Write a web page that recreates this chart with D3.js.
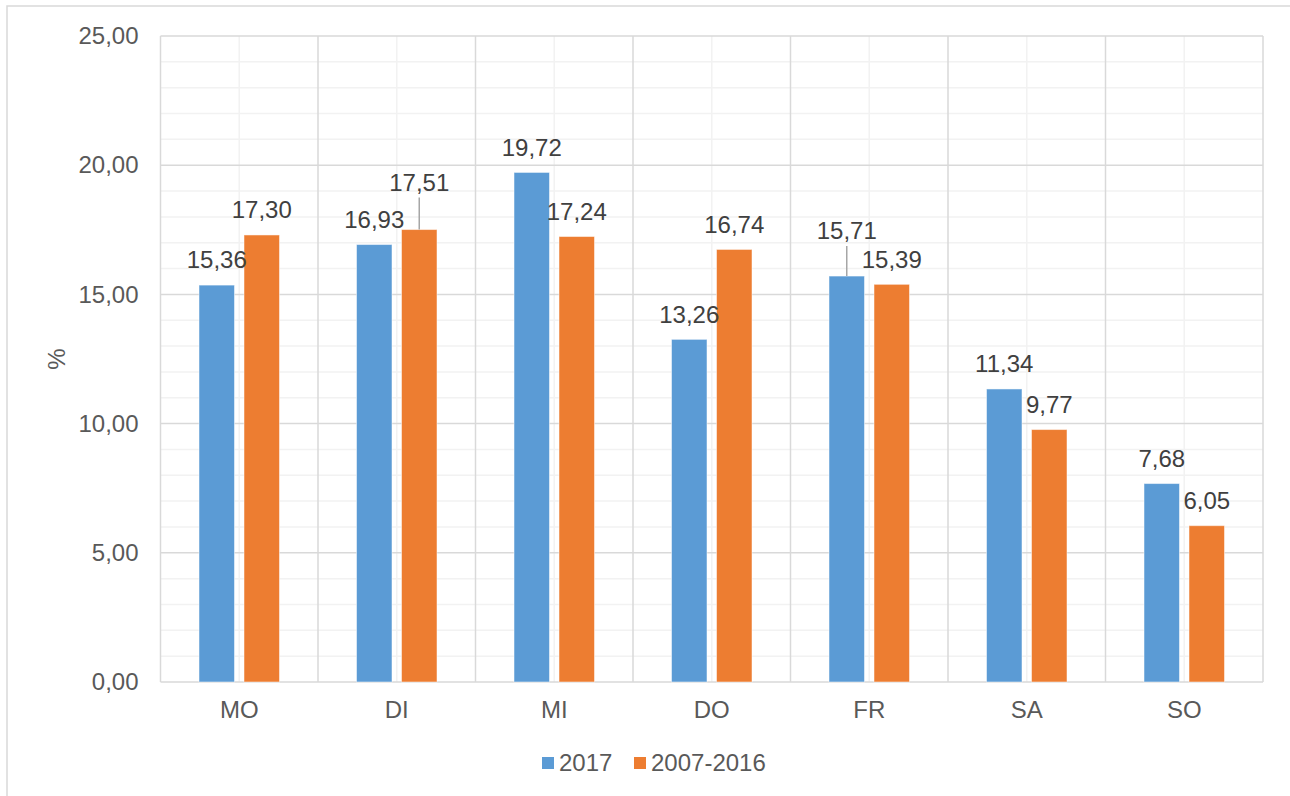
<!DOCTYPE html>
<html>
<head>
<meta charset="utf-8">
<script src="https://cdn.jsdelivr.net/npm/d3@7"></script>
<style>
  html, body { margin: 0; padding: 0; background: #fff; }
  svg { display: block; font-family: "Liberation Sans", Arial, sans-serif; }
</style>
</head>
<body>
<svg id="chart" width="1290" height="796"></svg>
<script>
// Weekday shares (%)
const days = ["MO", "DI", "MI", "DO", "FR", "SA", "SO"];
const seriesNames = ["2017", "2007-2016"];
const values2017 = [15.36, 16.93, 19.72, 13.26, 15.71, 11.34, 7.68];
const valuesAvg = [17.30, 17.51, 17.24, 16.74, 15.39, 9.77, 6.05];
const yTicks = [0, 5, 10, 15, 20, 25];
const colors = ["#5b9bd5", "#ed7d31"];

// labels lifted above a neighbouring label, drawn with a leader line
const lifted = { "1-1": 22, "4-0": 20 };

const svg = d3.select("#chart");
const W = 1290, H = 796;
const plotL = 160.5, plotR = 1263, plotT = 36, plotB = 682;
const FS = "24px";

const fmt = v => d3.format(".2f")(v).replace(".", ",");

// chart outer border
svg.append("rect").attr("x", 7).attr("y", 6).attr("width", W).attr("height", H)
  .attr("fill", "none").attr("stroke", "#d9d9d9").attr("stroke-width", 1.5);

const x = d3.scaleBand().domain(days).range([plotL, plotR]).paddingInner(0).paddingOuter(0);
const y = d3.scaleLinear().domain([0, 25]).range([plotB, plotT]);

const g = svg.append("g");

// minor horizontal grid
g.selectAll("line.hmin").data(d3.range(0, 26, 1).filter(v => v % 5 !== 0)).enter()
  .append("line").attr("x1", plotL).attr("x2", plotR)
  .attr("y1", d => y(d)).attr("y2", d => y(d))
  .attr("stroke", "#f2f2f2").attr("stroke-width", 1.5);
// minor vertical grid (category centres)
g.selectAll("line.vmin").data(days).enter()
  .append("line").attr("y1", plotT).attr("y2", plotB)
  .attr("x1", d => x(d) + x.bandwidth() / 2).attr("x2", d => x(d) + x.bandwidth() / 2)
  .attr("stroke", "#f2f2f2").attr("stroke-width", 1.5);
// major horizontal grid
g.selectAll("line.hmaj").data(yTicks).enter()
  .append("line").attr("x1", plotL).attr("x2", plotR)
  .attr("y1", d => y(d)).attr("y2", d => y(d))
  .attr("stroke", "#d9d9d9").attr("stroke-width", 1.5);
// major vertical grid (category boundaries)
g.selectAll("line.vmaj").data(days.map(d => x(d)).concat([plotR])).enter()
  .append("line").attr("y1", plotT).attr("y2", plotB)
  .attr("x1", d => d).attr("x2", d => d)
  .attr("stroke", "#d9d9d9").attr("stroke-width", 1.5);

// y axis
const yAxis = d3.axisLeft(y).tickValues(yTicks).tickFormat(fmt).tickSize(0).tickPadding(22);
const ya = svg.append("g").attr("transform", `translate(${plotL},0)`).call(yAxis);
ya.select(".domain").remove();
ya.selectAll("text").attr("fill", "#595959").style("font-size", FS)
  .style("font-family", "'Liberation Sans', Arial, sans-serif");

// x axis
const xAxis = d3.axisBottom(x).tickSize(0).tickPadding(19);
const xa = svg.append("g").attr("transform", `translate(0,${plotB})`).call(xAxis);
xa.select(".domain").remove();
xa.selectAll("text").attr("fill", "#595959").style("font-size", FS)
  .style("font-family", "'Liberation Sans', Arial, sans-serif");

// y axis title
svg.append("text").attr("transform", `translate(65,${(plotT + plotB) / 2}) rotate(-90)`)
  .attr("text-anchor", "middle").attr("fill", "#595959").style("font-size", FS).text("%");

// bars
const barW = 35.5, gap = 9.5;
const xs = d3.scaleOrdinal().domain([0, 1])
  .range([x.bandwidth() / 2 - gap / 2 - barW, x.bandwidth() / 2 + gap / 2]);
const series = [values2017, valuesAvg];
const rows = [];
series.forEach((vals, si) => vals.forEach((v, i) => rows.push({ si, i, v })));

svg.append("g").selectAll("rect").data(rows).enter().append("rect")
  .attr("x", d => x(days[d.i]) + xs(d.si))
  .attr("y", d => y(d.v))
  .attr("width", barW)
  .attr("height", d => plotB - y(d.v))
  .attr("fill", d => colors[d.si])
  .attr("stroke", "#fff").attr("stroke-opacity", 0.5).attr("stroke-width", 1);

// value labels
const lg = svg.append("g");
rows.forEach(d => {
  const cx = x(days[d.i]) + xs(d.si) + barW / 2;
  const lift = lifted[`${d.i}-${d.si}`] || 0;
  const cy = y(d.v) - 25 - lift;
  if (lift) {
    lg.append("line").attr("x1", cx).attr("x2", cx)
      .attr("y1", cy + 15).attr("y2", y(d.v))
      .attr("stroke", "#a6a6a6").attr("stroke-width", 1.5);
  }
  lg.append("text").attr("x", cx).attr("y", cy).attr("dy", "0.35em")
    .attr("text-anchor", "middle").attr("fill", "#404040").style("font-size", FS)
    .text(fmt(d.v));
});

// legend
const leg = svg.append("g");
const legendX = [542, 634];
seriesNames.forEach((name, i) => {
  leg.append("rect").attr("x", legendX[i]).attr("y", 757).attr("width", 12).attr("height", 12)
    .attr("fill", colors[i]);
  leg.append("text").attr("x", legendX[i] + 17).attr("y", 763).attr("dy", "0.35em")
    .attr("fill", "#595959").style("font-size", FS).text(name);
});
</script>
</body>
</html>
